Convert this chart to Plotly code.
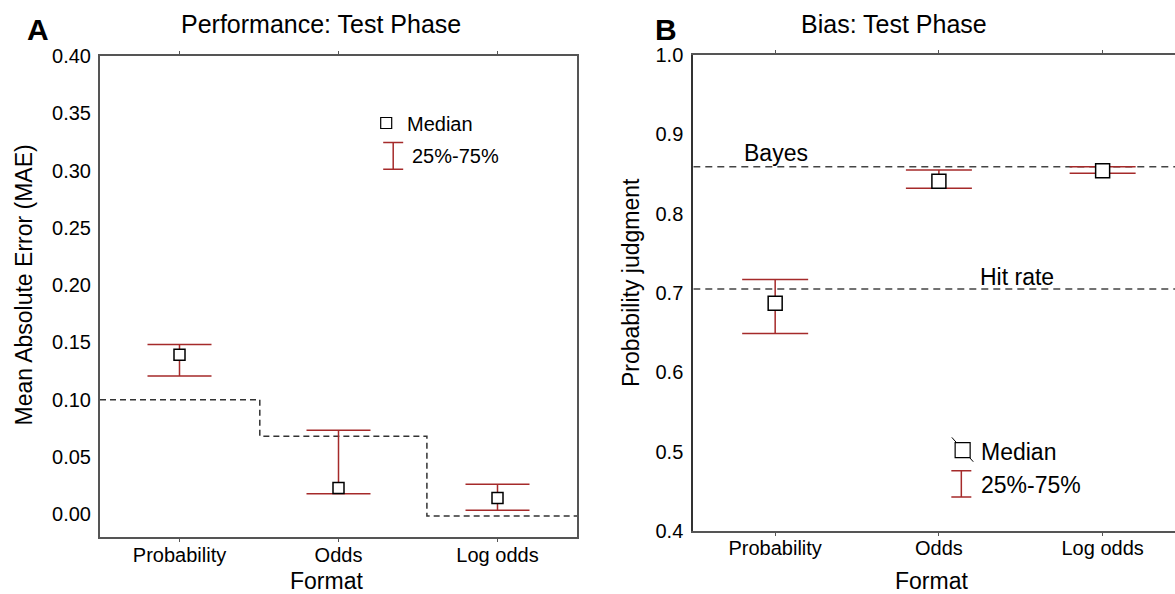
import plotly.graph_objects as go

W, H = 1175, 594
FONT = "Liberation Sans, Arial, sans-serif"

# ---------------- data ----------------
formats = ["Probability", "Odds", "Log odds"]

# Panel A: Mean Absolute Error (median and quartiles)
mae_median = [0.139, 0.0227, 0.014]
mae_q25 = [0.1206, 0.0177, 0.0032]
mae_q75 = [0.148, 0.0732, 0.026]
# dashed reference step line in panel A
ref_step_x = [-0.5, 0.505, 0.505, 1.556, 1.556, 2.5]
ref_step_y = [0.0999, 0.0999, 0.0679, 0.0679, -0.0017, -0.0017]
yticks_A = [0.00, 0.05, 0.10, 0.15, 0.20, 0.25, 0.30, 0.35, 0.40]

# Panel B: probability judgment (median and quartiles)
prob_median = [0.687, 0.841, 0.854]
prob_q25 = [0.649, 0.832, 0.851]
prob_q75 = [0.717, 0.855, 0.859]
bayes_value = 0.859
hit_rate_value = 0.705
yticks_B = [0.4, 0.5, 0.6, 0.7, 0.8, 0.9, 1.0]

xpos = list(range(len(formats)))

ERR = "#A52A2A"
AXC = "#555555"


def px_x(p):
    return p / W


def px_y(p):
    return 1 - p / H


fig = go.Figure()

# ---------- Panel A ----------
fig.add_trace(go.Scatter(
    x=ref_step_x, y=ref_step_y, mode="lines",
    line=dict(color="#333333", width=1.5, dash="6px,4px"),
    xaxis="x", yaxis="y", hoverinfo="skip"))

fig.add_trace(go.Scatter(
    x=xpos, y=mae_median, mode="markers",
    marker=dict(symbol="square", size=11, color="white",
                line=dict(color="black", width=1.5)),
    error_y=dict(type="data", symmetric=False,
                 array=[q - m for q, m in zip(mae_q75, mae_median)],
                 arrayminus=[m - q for q, m in zip(mae_q25, mae_median)],
                 color=ERR, thickness=1.5, width=32),
    xaxis="x", yaxis="y"))

# legend A
fig.add_trace(go.Scatter(
    x=[1.30], y=[0.3415], mode="markers",
    marker=dict(symbol="square", size=11, color="white",
                line=dict(color="black", width=1.2)),
    xaxis="x", yaxis="y", hoverinfo="skip"))
fig.add_trace(go.Scatter(
    x=[1.344], y=[0.3128], mode="markers",
    marker=dict(size=1, color="rgba(0,0,0,0)"),
    error_y=dict(type="constant", value=0.0117, color=ERR, thickness=1.5, width=10),
    xaxis="x", yaxis="y", hoverinfo="skip"))

# ---------- Panel B ----------
for val in [bayes_value, hit_rate_value]:
    fig.add_trace(go.Scatter(
        x=[-0.5, 2.5], y=[val, val], mode="lines",
        line=dict(color="#444444", width=1.5, dash="7px,5px"),
        xaxis="x2", yaxis="y2", hoverinfo="skip"))

fig.add_trace(go.Scatter(
    x=xpos, y=prob_median, mode="markers",
    marker=dict(symbol="square", size=14, color="white",
                line=dict(color="black", width=1.5)),
    error_y=dict(type="data", symmetric=False,
                 array=[q - m for q, m in zip(prob_q75, prob_median)],
                 arrayminus=[m - q for q, m in zip(prob_q25, prob_median)],
                 color=ERR, thickness=1.5, width=33),
    xaxis="x2", yaxis="y2"))

# legend B
fig.add_trace(go.Scatter(
    x=[1.079, 1.21], y=[0.518, 0.4873], mode="lines",
    line=dict(color="black", width=1),
    xaxis="x2", yaxis="y2", hoverinfo="skip"))
fig.add_trace(go.Scatter(
    x=[1.145], y=[0.502], mode="markers",
    marker=dict(symbol="square", size=15, color="white",
                line=dict(color="black", width=1.2)),
    xaxis="x2", yaxis="y2", hoverinfo="skip"))
fig.add_trace(go.Scatter(
    x=[1.137], y=[0.4595], mode="markers",
    marker=dict(size=1, color="rgba(0,0,0,0)"),
    error_y=dict(type="constant", value=0.0165, color=ERR, thickness=1.5, width=10),
    xaxis="x2", yaxis="y2", hoverinfo="skip"))

tickfont = dict(family=FONT, size=20, color="black")

fig.update_layout(
    width=W, height=H, margin=dict(l=0, r=0, t=0, b=0, pad=0), autosize=False,
    paper_bgcolor="white", plot_bgcolor="white", showlegend=False,
    font=dict(family=FONT, color="black"),
    xaxis=dict(domain=[px_x(100), px_x(577)], range=[-0.5, 2.5],
               tickvals=xpos, ticktext=formats, tickfont=tickfont,
               showgrid=False, zeroline=False, showline=True, linecolor=AXC,
               linewidth=2, mirror="ticks", ticks="outside", ticklen=3,
               tickcolor=AXC, ticklabelstandoff=-4, anchor="y", automargin=False),
    yaxis=dict(domain=[px_y(536.7), px_y(56)], range=[-0.0198, 0.40],
               tickvals=yticks_A, tickformat=".2f", tickfont=tickfont,
               showgrid=False, zeroline=False, showline=True, linecolor=AXC,
               linewidth=2, mirror=True, ticks="", ticklabelstandoff=3,
               anchor="x", automargin=False),
    xaxis2=dict(domain=[px_x(693.3), 1.0], range=[-0.5, 2.442],
                tickvals=xpos, ticktext=formats, tickfont=tickfont,
                showgrid=False, zeroline=False, showline=True, linecolor=AXC,
                linewidth=2, mirror="ticks", ticks="outside", ticklen=3,
                tickcolor=AXC, ticklabelstandoff=-5, anchor="y2", automargin=False),
    yaxis2=dict(domain=[px_y(531), px_y(55)], range=[0.4, 1.0],
                tickvals=yticks_B, tickformat=".1f", tickfont=tickfont,
                showgrid=False, zeroline=False, showline=True, linecolor="#333333",
                linewidth=2, mirror=False, ticks="", ticklabelstandoff=4,
                anchor="x2", automargin=False),
)

ann = []


def add_paper(text, x, y, size, xanchor="center", yanchor="middle", angle=0, bold=False):
    t = f"<b>{text}</b>" if bold else text
    ann.append(dict(text=t, x=px_x(x), y=px_y(y), xref="paper", yref="paper",
                    showarrow=False, xanchor=xanchor, yanchor=yanchor,
                    textangle=angle, font=dict(family=FONT, size=size, color="black")))


add_paper("A", 37.5, 30, 30, bold=True)
add_paper("B", 666, 30, 30, bold=True)
add_paper("Performance: Test Phase", 320.5, 24, 25)
add_paper("Bias: Test Phase", 893.5, 24, 25)
add_paper("Format", 326.5, 581, 23)
add_paper("Format", 931.7, 581, 23)
add_paper("Mean Absolute Error (MAE)", 23, 285.5, 23, angle=-90)
add_paper("Probability judgment", 631, 283, 23, angle=-90)


def add_data(text, x, y, xr, yr, size):
    ann.append(dict(text=text, x=x, y=y, xref=xr, yref=yr, showarrow=False,
                    xanchor="left", yanchor="middle",
                    font=dict(family=FONT, size=size, color="black")))


add_data("Median", 1.42, 0.3405, "x", "y", 20)
add_data("25%-75%", 1.451, 0.3123, "x", "y", 20)
add_data("Bayes", -0.205, 0.877, "x2", "y2", 23)
add_data("Hit rate", 1.24, 0.7198, "x2", "y2", 23)
add_data("Median", 1.245, 0.500, "x2", "y2", 23)
add_data("25%-75%", 1.245, 0.458, "x2", "y2", 23)

fig.update_layout(annotations=ann)

fig.write_html("out.html", config={"responsive": False})
